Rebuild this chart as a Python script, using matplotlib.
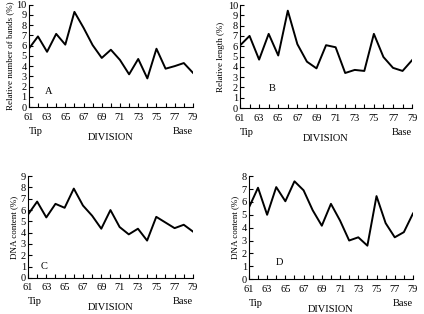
import matplotlib.pyplot as plt

plt.rcParams['font.family'] = 'Liberation Serif'

divisions = list(range(61, 80))
bands = [5.7, 6.9, 5.4, 7.15, 6.1, 9.3, 7.75, 6.05, 4.8, 5.6, 4.6, 3.2, 4.7, 2.8, 5.7, 3.75, 4.0, 4.3, 3.35]
length = [6.07, 7.0, 4.7, 7.2, 5.1, 9.45, 6.2, 4.5, 3.85, 6.1, 5.9, 3.4, 3.7, 3.6, 7.2, 4.95, 3.9, 3.6, 4.65]
dna_c = [5.6, 6.75, 5.35, 6.55, 6.2, 7.9, 6.4, 5.5, 4.35, 6.0, 4.5, 3.85, 4.35, 3.3, 5.4, 4.9, 4.4, 4.7, 4.1]
dna_d = [5.55, 7.1, 5.0, 7.15, 6.05, 7.6, 6.9, 5.35, 4.15, 5.85, 4.55, 3.0, 3.25, 2.6, 6.45, 4.35, 3.25, 3.65, 5.1]

panels = [
    # values, ylabel, ymax, letter, letter pos, axes rect
    (bands, 'Relative number of bands (%)', 10, 'A', (63.2, 1.5), [0.068, 0.659, 0.387, 0.326]),
    (length, 'Relative length (%)', 10, 'B', (64.4, 1.9), [0.566, 0.656, 0.406, 0.328]),
    (dna_c, 'DNA content (%)', 9, 'C', (62.8, 1.0), [0.066, 0.115, 0.389, 0.324]),
    (dna_d, 'DNA content (%)', 8, 'D', (64.3, 1.3), [0.587, 0.111, 0.387, 0.328]),
]

fig = plt.figure(figsize=(4.24, 3.14), dpi=100)

for vals, ylab, ymax, letter, lpos, rect in panels:
    ax = fig.add_axes(rect)
    ax.plot(divisions, vals, color='black', lw=1.4)
    ax.set_xlim(61, 79)
    ax.set_ylim(0, ymax)
    ax.set_xticks(range(61, 80, 2))
    ax.set_xticks(range(61, 80), minor=True)
    ax.set_yticks(range(0, ymax + 1))
    ax.spines['top'].set_visible(False)
    ax.spines['right'].set_visible(False)
    ax.tick_params(direction='in', length=3, width=0.8, labelsize=7.5)
    ax.tick_params(axis='x', pad=4)
    ax.tick_params(axis='y', pad=1.5)
    ax.tick_params(which='minor', direction='in', length=3, width=0.8)
    ax.set_ylabel(ylab, fontsize=6.5, labelpad=2)
    ax.text(lpos[0], lpos[1], letter, fontsize=7.5, ha='center', va='center')
    ax.text(0.0, -0.19, 'Tip', transform=ax.transAxes, fontsize=7.5, ha='left', va='top')
    ax.text(1.0, -0.19, 'Base', transform=ax.transAxes, fontsize=7.5, ha='right', va='top')
    ax.text(0.5, -0.25, 'DIVISION', transform=ax.transAxes, fontsize=7.5, ha='center', va='top')

fig.savefig('out.png', dpi=100)
